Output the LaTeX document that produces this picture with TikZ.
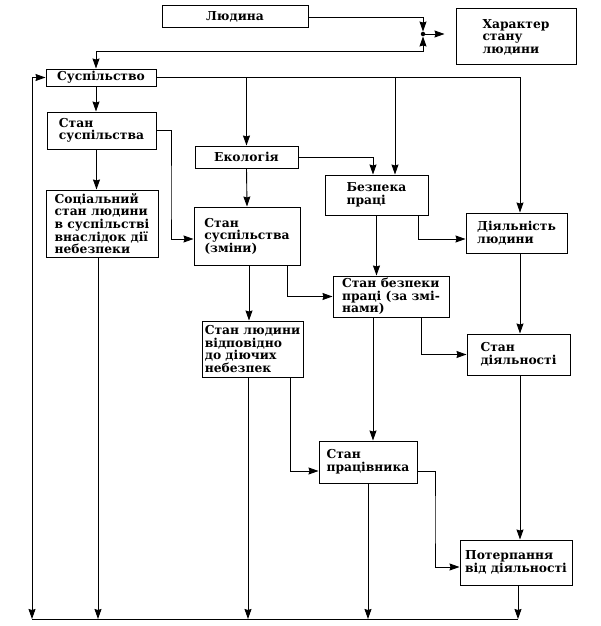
\documentclass[tikz,border=0pt]{standalone}
\usepackage{fontspec}
\setmainfont{DejaVu Serif}
\usetikzlibrary{arrows.meta}

\tikzset{
  >={Stealth[length=10pt,width=7pt,inset=1pt]},
  blok/.style={draw, line width=1pt, align=left, inner sep=2pt,
    font=\bfseries\fontsize{12.3}{12.6}\selectfont},
  strl/.style={line width=0.9pt, ->}
}

\begin{document}
\begin{tikzpicture}[x=1pt,y=-1pt]
    \useasboundingbox (0,0) rectangle (600,626);

    % blocks
    \node[blok,minimum width=146pt,minimum height=22pt] (lyudyna) at (235,17) {Людина};
    \node[blok,minimum width=120pt,minimum height=56pt] (kharakter) at (516,37) {Характер\\стану\\людини};
    \node[circle,fill,inner sep=0pt,minimum size=4.5pt] (dot) at (423,34) {};
    \node[blok,minimum width=110pt,minimum height=17pt,inner ysep=1pt] (susp) at (101,77.5) {Суспільство};
    \node[blok,minimum width=109pt,minimum height=37pt] (stsusp) at (101.5,130.5) {Стан\\суспільства};
    \node[blok,minimum width=112pt,minimum height=67pt] (soc) at (102,223.5) {Соціальний\\стан людини\\в суспільстві\\внаслідок дії\\небезпеки};
    \node[blok,minimum width=103pt,minimum height=22pt] (ekol) at (246.5,157) {Екологія};
    \node[blok,minimum width=103pt,minimum height=40pt] (bezp) at (376.5,195) {Безпека\\праці};
    \node[blok,minimum width=106pt,minimum height=58pt] (stzm) at (247,236) {Стан\\суспільства\\(зміни)};
    \node[blok,minimum width=101pt,minimum height=40pt] (diyal) at (516.5,233) {Діяльність\\людини};
    \node[blok,minimum width=116pt,minimum height=41pt] (stbezp) at (391,296.5) {Стан безпеки\\праці (за змі-\\нами)};
    \node[blok,minimum width=101pt,minimum height=56pt] (stlyud) at (252.5,349) {Стан людини\\відповідно\\до діючих\\небезпек};
    \node[blok,minimum width=103pt,minimum height=41pt] (stdiyal) at (518.5,354.5) {Стан\\діяльності};
    \node[blok,minimum width=98pt,minimum height=42pt] (stprac) at (368,462) {Стан\\працівника};
    \node[blok,minimum width=112pt,minimum height=45pt] (poter) at (516,562.5) {Потерпання\\від діяльності};

    \coordinate (botL) at (32,619);
    \coordinate (botR) at (518,619);

    % top part
    \draw[strl] (lyudyna.east) -| (dot);
    \draw[strl,shorten >=11pt] (dot) -- (dot -| kharakter.west);
    \draw[strl,<->] (dot) -- (dot |- 0,51) -| ([xshift=-5pt]susp.north);
    \draw[strl,<->] (botL) |- (susp.west);
    \draw[line width=0.9pt] (botL) -- (botR);

    % from Suspilstvo
    \draw[strl] (susp.east) -| ([xshift=3.5pt]diyal.north);
    \draw[strl] (ekol.north |- susp.east) -- (ekol.north);
    \draw[strl] (395,0 |- susp.east) -- (395,0 |- bezp.north);
    \draw[strl] ([xshift=-5pt]susp.south) -- ([xshift=-5pt]susp.south |- stsusp.north);
    \draw[strl] ([xshift=-5pt]stsusp.south) -- ([xshift=-5pt]stsusp.south |- soc.north);
    \draw[strl] (stsusp.east) -| (171,200) |- ([yshift=-3pt]stzm.west);

    % middle
    \draw[strl] (ekol.east) -| ([xshift=-3.5pt]bezp.north);
    \draw[strl] (ekol.south) -- (stzm.north);
    \draw[strl] (bezp.south) -- (bezp.south |- stbezp.north);
    \draw[strl] ([xshift=41.5pt]bezp.south) |- ([yshift=-6pt]diyal.west);
    \draw[strl] ([xshift=2pt]stzm.south) -- ([xshift=2pt]stzm.south |- stlyud.north);
    \draw[strl] ([xshift=40pt]stzm.south) |- (stbezp.west);
    \draw[strl] ([xshift=3.5pt]diyal.south) -- ([xshift=3.5pt]diyal.south |- stdiyal.north);
    \draw[strl] ([xshift=-18pt]stbezp.south) -- ([xshift=-18pt]stbezp.south |- stprac.north);
    \draw[strl] ([xshift=30pt]stbezp.south) |- (stdiyal.west);
    \draw[strl] ([xshift=37.5pt]stlyud.south) |- ([yshift=-9pt]stprac.west);
    \draw[strl] ([xshift=1.5pt]stdiyal.south) -- ([xshift=1.5pt]stdiyal.south |- poter.north);
    \draw[strl] ([yshift=-9pt]stprac.east) -| (435,520) |- ([yshift=-4.5pt]poter.west);

    % down to the bottom line
    \foreach \n/\s in
    {soc/-4,stlyud/-4.5,stprac/0,poter/2}
    {\draw[strl] ([xshift=\s pt]\n.south) -- ([xshift=\s pt]\n.south |- botL);}
  \end{tikzpicture}
\end{document}
